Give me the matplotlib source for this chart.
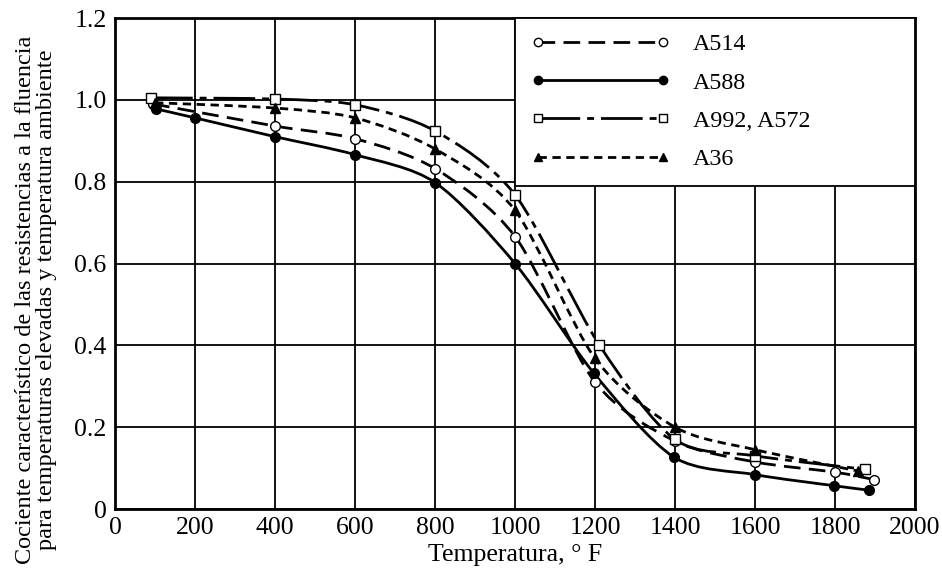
import numpy as np
import matplotlib
matplotlib.use('Agg')
import matplotlib.pyplot as plt
from matplotlib.path import Path
from matplotlib.patches import PathPatch
from matplotlib.lines import Line2D

plt.rcParams['font.family'] = ['Liberation Serif', 'DejaVu Serif']

# ---- data ----
temp_a514 = [95, 400, 600, 800, 1000, 1200, 1400, 1600, 1800, 1897]
ratio_a514 = [0.99, 0.936, 0.905, 0.832, 0.666, 0.31, 0.166, 0.115, 0.09, 0.072]

temp_a588 = [102, 200, 400, 600, 800, 1000, 1197, 1397, 1600, 1797, 1885]
ratio_a588 = [0.978, 0.956, 0.91, 0.866, 0.798, 0.60, 0.332, 0.127, 0.084, 0.057, 0.046]

temp_a992 = [90, 400, 600, 800, 1000, 1210, 1400, 1600, 1875]
ratio_a992 = [1.005, 1.002, 0.988, 0.924, 0.768, 0.402, 0.17, 0.13, 0.097]

temp_a36 = [100, 400, 600, 800, 1000, 1200, 1400, 1600, 1857]
ratio_a36 = [0.993, 0.98, 0.956, 0.88, 0.73, 0.368, 0.2, 0.145, 0.093]

series_labels = ['A514', 'A588', 'A992, A572', 'A36']
x_ticks = list(range(0, 2001, 200))
y_ticks = [0, 0.2, 0.4, 0.6, 0.8, 1.0, 1.2]
y_tick_labels = ['0', '0.2', '0.4', '0.6', '0.8', '1.0', '1.2']


def smooth_path(xs, ys, tension=0.85):
    """Catmull-Rom curve through the points, expressed as cubic Bezier path."""
    p = np.column_stack([xs, ys]).astype(float)
    n = len(p)
    verts = [p[0]]
    codes = [Path.MOVETO]
    for i in range(n - 1):
        p0 = p[i - 1] if i > 0 else p[i]
        p1 = p[i]
        p2 = p[i + 1]
        p3 = p[i + 2] if i + 2 < n else p[i + 1]
        c1 = p1 + (p2 - p0) / 6.0 * tension
        c2 = p2 - (p3 - p1) / 6.0 * tension
        verts += [c1, c2, p2]
        codes += [Path.CURVE4] * 3
    return Path(verts, codes)


fig = plt.figure(figsize=(9.42, 5.76), dpi=100)
ax = fig.add_axes([0.1221, 0.1163, 0.8493, 0.8524])

lw = 2.0
styles = [
    dict(x=temp_a514, y=ratio_a514, ls=(0, (6, 3)), marker='o', mfc='white', ms=7),
    dict(x=temp_a588, y=ratio_a588, ls='-', marker='o', mfc='black', ms=7),
    dict(x=temp_a992, y=ratio_a992, ls=(0, (15, 2.5, 2.5, 2.5)), marker='s', mfc='white', ms=6.5),
    dict(x=temp_a36, y=ratio_a36, ls=(0, (3, 2)), marker='^', mfc='black', ms=7),
]

handles = []
for st, lab in zip(styles, series_labels):
    patch = PathPatch(smooth_path(st['x'], st['y']), facecolor='none',
                      edgecolor='black', lw=lw, linestyle=st['ls'], zorder=3,
                      capstyle='butt')
    ax.add_patch(patch)
    ax.plot(st['x'], st['y'], linestyle='none', marker=st['marker'],
            mfc=st['mfc'], mec='black', mew=1.0, ms=st['ms'], zorder=4)
    handles.append(Line2D([0, 1], [0, 0], color='black', lw=lw, linestyle=st['ls'],
                          marker=st['marker'], mfc=st['mfc'], mec='black',
                          mew=1.0, ms=st['ms'] - 1))

ax.set_xlim(0, 2000)
ax.set_ylim(0, 1.2)
ax.set_xticks(x_ticks)
ax.set_yticks(y_ticks)
ax.set_yticklabels(y_tick_labels)
ax.grid(True, color='black', lw=1.3)
ax.set_axisbelow(True)
ax.tick_params(length=0, labelsize=18.5, pad=6)
for s in ax.spines.values():
    s.set_linewidth(2.0)

ax.set_xlabel('Temperatura, ° F', fontsize=18.5, labelpad=3)
ax.set_ylabel('Cociente característico de las resistencias a la fluencia\n'
              'para temperaturas elevadas y temperatura ambiente',
              fontsize=17.5, linespacing=0.97)
ax.yaxis.set_label_coords(-0.0725, 0.426)

leg = ax.legend(handles, series_labels, loc='upper left',
                bbox_to_anchor=(0.5, 1.0, 0.5, 0.0), mode='expand',
                borderaxespad=0, fontsize=17.3, handlelength=5.8,
                handletextpad=0.95, labelspacing=0.68, borderpad=0.65,
                fancybox=False, framealpha=1, edgecolor='black', numpoints=2)
leg.get_frame().set_linewidth(1.3)
leg.set_zorder(10)

fig.savefig('out.png', dpi=100)
